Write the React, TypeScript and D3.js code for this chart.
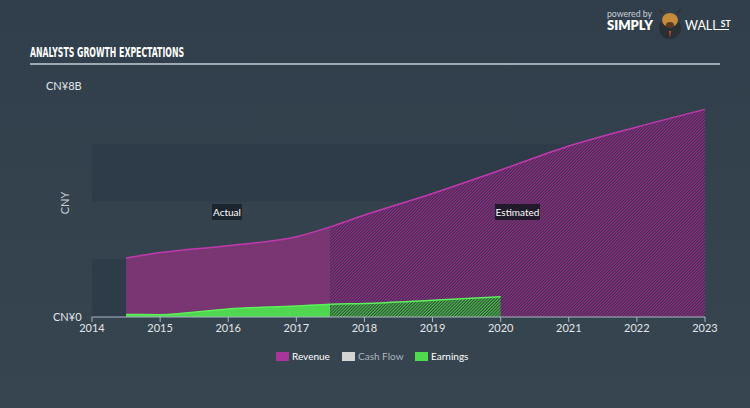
import React from "react";
import * as d3 from "d3";

const revenueYears = [2014.5, 2015, 2016, 2017, 2017.5, 2018, 2019, 2020, 2021, 2022, 2023];
const revenueValues = [2.04, 2.23, 2.47, 2.78, 3.12, 3.53, 4.28, 5.09, 5.92, 6.58, 7.19];
const earningsYears = [2014.5, 2015, 2016, 2017, 2017.5, 2018, 2019, 2020];
const earningsValues = [0.09, 0.08, 0.28, 0.38, 0.44, 0.47, 0.58, 0.7];
const tickYears = [2014, 2015, 2016, 2017, 2018, 2019, 2020, 2021, 2022, 2023];
const yBands = [0, 2, 4, 6, 8];
const splitYear = 2017.5;
const legendItems = ["Revenue", "Cash Flow", "Earnings"];
const legendColors = ["#a8359a", "#d4d4d4", "#4fd94f"];

const W = 750;
const H = 408;

export default function App() {
  const x = d3.scaleLinear().domain([2014, 2023]).range([92, 705]);
  const y = d3.scaleLinear().domain([0, 8]).range([317, 86]);

  const revPts = revenueYears.map((yr, i) => [yr, revenueValues[i]] as [number, number]);
  const earnPts = earningsYears.map((yr, i) => [yr, earningsValues[i]] as [number, number]);

  const area = d3
    .area<[number, number]>()
    .x((d) => x(d[0]))
    .y0(y(0))
    .y1((d) => y(d[1]))
    .curve(d3.curveMonotoneX);
  const line = d3
    .line<[number, number]>()
    .x((d) => x(d[0]))
    .y((d) => y(d[1]))
    .curve(d3.curveMonotoneX);

  const sx = x(splitYear);
  const font = "Lato, 'Open Sans', sans-serif";

  return (
    <div style={{ position: "fixed", left: 0, top: 0, width: W, height: H }}>
      <svg width={W} height={H} style={{ display: "block" }}>
        <defs>
          <linearGradient id="bg" x1="0" y1="0" x2="0" y2="1">
            <stop offset="0" stopColor="#313f4c" />
            <stop offset="1" stopColor="#36454f" />
          </linearGradient>
          <pattern id="hatchRev" width="2.2" height="2.2" patternUnits="userSpaceOnUse" patternTransform="rotate(45)">
            <rect width="2.2" height="2.2" fill="#3d2c4a" />
            <rect width="1.1" height="2.2" fill="#952f8b" />
          </pattern>
          <pattern id="hatchEarn" width="2.2" height="2.2" patternUnits="userSpaceOnUse" patternTransform="rotate(45)">
            <rect width="2.2" height="2.2" fill="#2f4a3a" />
            <rect width="1.1" height="2.2" fill="#4cbf4c" />
          </pattern>
          <clipPath id="clipActual">
            <rect x={0} y={0} width={sx} height={H} />
          </clipPath>
          <clipPath id="clipEst">
            <rect x={sx} y={0} width={W - sx} height={H} />
          </clipPath>
        </defs>
        <rect width={W} height={H} fill="url(#bg)" />

        {/* logo */}
        <text x={607} y={17} fontFamily={font} fontSize={9.5} fill="#c9d0d6" textLength={45} lengthAdjust="spacingAndGlyphs">powered by</text>
        <text x={607} y={30} fontFamily={font} fontSize={12.5} fontWeight={800} fill="#ffffff" textLength={46} lengthAdjust="spacingAndGlyphs">SIMPLY</text>
        <circle cx={670} cy={28} r={11} fill="#2a2f36" />
        <ellipse cx={670} cy={20} rx={8} ry={7} fill="#c58a3a" />
        <path d="M662,14 L658,8 L663,12 Z M678,14 L682,8 L677,12 Z" fill="#3a2a20" />
        <ellipse cx={670} cy={25} rx={4} ry={3} fill="#5a3a22" />
        <path d="M669,31 L671,31 L670,38 Z" fill="#e05020" />
        <text x={685} y={30} fontFamily={font} fontSize={12.5} fontWeight={400} fill="#ffffff">
          WALL
          <tspan dx={2} dy={-3} fontSize={8.5} fontWeight={700}>ST</tspan>
        </text>
        <line x1={718} y1={29.5} x2={729} y2={29.5} stroke="#fff" strokeWidth={1} />

        {/* title */}
        <text x={30} y={57} fontFamily="'DejaVu Sans Condensed', 'Liberation Sans Narrow', sans-serif" fontSize={14} fontWeight={700} fill="#ffffff" textLength={154} lengthAdjust="spacingAndGlyphs">ANALYSTS GROWTH EXPECTATIONS</text>
        <line x1={30} y1={64} x2={720} y2={64} stroke="#c3ccd4" strokeWidth={1.5} />

        {/* bands */}
        {yBands.slice(0, -1).map((b, i) =>
          i % 2 === 0 ? (
            <rect key={b} x={x(2014)} y={y(b + 2)} width={x(2023) - x(2014)} height={y(b) - y(b + 2)} fill="#2e3b48" />
          ) : null
        )}

        {/* areas */}
        <g clipPath="url(#clipActual)">
          <path d={area(revPts) || ""} fill="#7a3672" />
          <path d={area(earnPts) || ""} fill="#4fd74f" />
        </g>
        <g clipPath="url(#clipEst)">
          <path d={area(revPts) || ""} fill="url(#hatchRev)" />
          <path d={area(earnPts) || ""} fill="url(#hatchEarn)" />
        </g>
        <path d={line(revPts) || ""} fill="none" stroke="#c03aae" strokeWidth={1.5} />
        <path d={line(earnPts) || ""} fill="none" stroke="#5cf05c" strokeWidth={1.5} />

        {/* labels */}
        <rect x={212} y={204} width={30} height={16} fill="#1c252e" />
        <text x={227} y={216} textAnchor="middle" fontFamily={font} fontSize={10} fill="#ffffff">Actual</text>
        <rect x={495} y={204} width={45} height={16} fill="#221a2a" />
        <text x={517.5} y={216} textAnchor="middle" fontFamily={font} fontSize={10} fill="#ffffff">Estimated</text>

        {/* axis */}
        <line x1={x(2014)} y1={y(0)} x2={x(2023)} y2={y(0)} stroke="#aab6c2" strokeWidth={1} />
        {tickYears.map((t) => (
          <g key={t}>
            <line x1={x(t)} y1={y(0)} x2={x(t)} y2={y(0) + 5} stroke="#aab6c2" strokeWidth={1} />
            <text x={x(t)} y={332} textAnchor="middle" fontFamily={font} fontSize={11} fill="#e2e6ea">{t}</text>
          </g>
        ))}
        <text x={46} y={90} fontFamily={font} fontSize={11} fill="#e2e6ea">CN¥8B</text>
        <text x={53} y={321} fontFamily={font} fontSize={11} fill="#e2e6ea">CN¥0</text>
        <text transform="translate(69,203) rotate(-90)" textAnchor="middle" fontFamily={font} fontSize={11} fill="#c8ced4">CNY</text>

        {/* legend */}
        {legendItems.map((name, i) => {
          const lx = [276, 342, 415][i];
          return (
            <g key={name}>
              <rect x={lx} y={352} width={13} height={9} fill={legendColors[i]} />
              <text x={lx + 16} y={360} fontFamily={font} fontSize={10} fill={i === 1 ? "#aab4be" : "#ffffff"}>{name}</text>
            </g>
          );
        })}
      </svg>
    </div>
  );
}
